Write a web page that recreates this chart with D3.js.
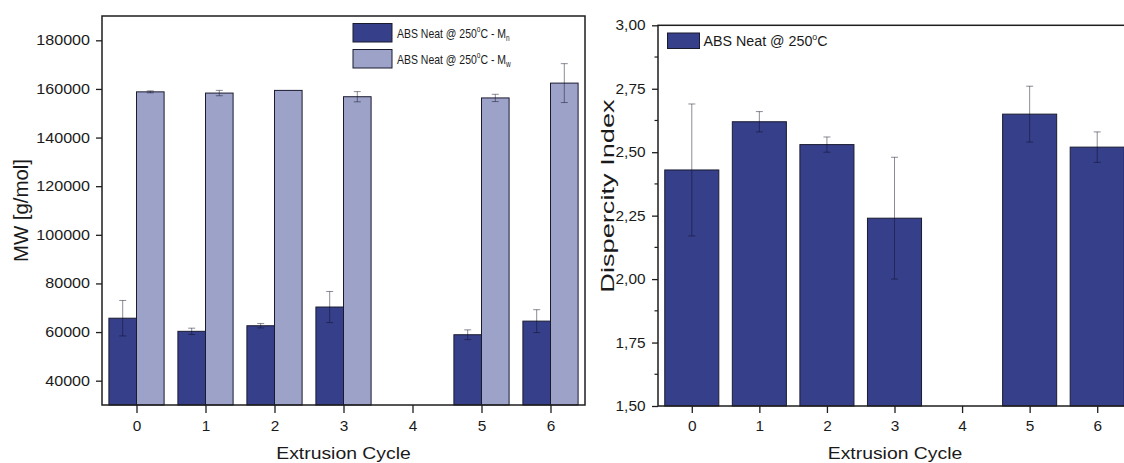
<!DOCTYPE html>
<html>
<head>
<meta charset="utf-8">
<script src="https://cdn.jsdelivr.net/npm/d3@7/dist/d3.min.js"></script>
<style>
  html, body { margin: 0; padding: 0; background: #fff; }
  svg { display: block; font-family: "Liberation Sans", Arial, Helvetica, sans-serif; }
</style>
</head>
<body>
<svg id="chart" width="1124" height="463"></svg>
<script>
// Extrusion cycles with measurements (cycle 4 was not measured)
const cycles = [0, 1, 2, 3, 5, 6];
const cycleTicks = [0, 1, 2, 3, 4, 5, 6];

// Number-average molecular weight Mn [g/mol] and its standard deviation
const mnMean = [65700, 60300, 62600, 70300, 58900, 64500];
const mnErr  = [7300, 1300, 900, 6400, 2000, 4700];

// Weight-average molecular weight Mw [g/mol] and its standard deviation
const mwMean = [158800, 158300, 159400, 156800, 156300, 162400];
const mwErr  = [400, 1100, 0, 2100, 1500, 8000];

// Dispersity index (Mw/Mn) and its standard deviation
const dispMean = [2.43, 2.62, 2.53, 2.24, 2.65, 2.52];
const dispErr  = [0.26, 0.04, 0.03, 0.24, 0.11, 0.06];

// Axis tick values
const mwTicks = [40000, 60000, 80000, 100000, 120000, 140000, 160000, 180000];
const dispTicks = [1.50, 1.75, 2.00, 2.25, 2.50, 2.75, 3.00];
const dispMinorTicks = [1.625, 1.875, 2.125, 2.375, 2.625, 2.875];

const C_MN = "#363f8a";
const C_MW = "#9da2c9";
const C_EDGE = "#1b1b30";
const C_AXIS = "#1e1e1e";
const C_TEXT = "#1a1a1a";
const C_ERR = "rgba(15,15,35,0.48)";

const svg = d3.select("#chart");
svg.append("rect").attr("width", 1124).attr("height", 463).attr("fill", "#fff");

// text placed in its own group so it can be rotated and stretched about its anchor
function label(parent, x, y, opts) {
  const g = parent.append("g")
    .attr("transform", `translate(${x},${y}) rotate(${opts.rotate || 0}) scale(${opts.sx || 1},1)`);
  const t = g.append("text")
    .attr("text-anchor", opts.anchor || "middle")
    .attr("font-size", opts.size)
    .attr("fill", C_TEXT);
  return t;
}

function styleAxis(g) {
  g.select(".domain").remove();
  g.selectAll(".tick line").attr("stroke", C_AXIS).attr("stroke-width", 1.3);
  g.selectAll(".tick text").attr("fill", C_TEXT);
}

function errorBars(g, data, xs, ys, cap) {
  const eb = g.append("g").attr("stroke", C_ERR).attr("stroke-width", 1).attr("fill", "none");
  data.forEach(d => {
    if (!d.e) return;
    const x = xs(d), yt = ys(d.m + d.e), yb = ys(d.m - d.e);
    eb.append("line").attr("x1", x).attr("x2", x).attr("y1", yt).attr("y2", yb);
    eb.append("line").attr("x1", x - cap).attr("x2", x + cap).attr("y1", yt).attr("y2", yt);
    eb.append("line").attr("x1", x - cap).attr("x2", x + cap).attr("y1", yb).attr("y2", yb);
  });
}

// ---------------- Left panel: molecular weight ----------------
{
  const P = { x0: 102, x1: 585, y0: 16, y1: 405 };
  const x = d3.scaleLinear().domain([-0.5, 6.5]).range([P.x0, P.x1]);
  const y = d3.scaleLinear().domain([30000, 190000]).range([P.y1, P.y0]);
  const g = svg.append("g");
  const bw = 0.4;

  const mn = cycles.map((c, i) => ({ c, m: mnMean[i], e: mnErr[i] }));
  const mw = cycles.map((c, i) => ({ c, m: mwMean[i], e: mwErr[i] }));

  g.append("g").selectAll("rect").data(mn).join("rect")
    .attr("x", d => x(d.c - bw)).attr("width", d => x(d.c) - x(d.c - bw))
    .attr("y", d => y(d.m)).attr("height", d => y(30000) - y(d.m))
    .attr("fill", C_MN).attr("stroke", C_EDGE).attr("stroke-width", 1);
  g.append("g").selectAll("rect").data(mw).join("rect")
    .attr("x", d => x(d.c)).attr("width", d => x(d.c + bw) - x(d.c))
    .attr("y", d => y(d.m)).attr("height", d => y(30000) - y(d.m))
    .attr("fill", C_MW).attr("stroke", C_EDGE).attr("stroke-width", 1);

  errorBars(g, mn, d => x(d.c - bw / 2), y, 3.5);
  errorBars(g, mw, d => x(d.c + bw / 2), y, 3.5);

  // frame
  g.append("rect").attr("x", P.x0).attr("y", P.y0)
    .attr("width", P.x1 - P.x0).attr("height", P.y1 - P.y0)
    .attr("fill", "none").attr("stroke", C_AXIS).attr("stroke-width", 1.5);

  const sxY = 1.15;
  const ya = g.append("g").attr("transform", `translate(${P.x0},0)`)
    .call(d3.axisLeft(y).tickValues(mwTicks).tickSize(6).tickFormat(d3.format("d")));
  styleAxis(ya);
  ya.selectAll(".tick text").attr("font-size", 14).attr("font-family", null)
    .attr("x", -12 / sxY).attr("transform", `scale(${sxY},1)`);

  const xa = g.append("g").attr("transform", `translate(0,${P.y1})`)
    .call(d3.axisBottom(x).tickValues(cycleTicks).tickSize(8).tickPadding(8).tickFormat(d3.format("d")));
  styleAxis(xa);
  xa.selectAll(".tick text").attr("font-size", 14).attr("font-family", null)
    .attr("transform", "scale(1.1,1)");

  label(g, (P.x0 + P.x1) / 2, 459, { size: 17, sx: 1.14 }).text("Extrusion Cycle");
  label(g, 27.5, (P.y0 + P.y1) / 2, { size: 20, rotate: -90, sx: 1.02 }).text("MW [g/mol]");

  // legend
  const lg = g.append("g");
  const items = [
    { fill: C_MN, y: 23.5, sub: "n" },
    { fill: C_MW, y: 49.5, sub: "w" }
  ];
  items.forEach(it => {
    lg.append("rect").attr("x", 353).attr("y", it.y).attr("width", 39).attr("height", 18.5)
      .attr("fill", it.fill).attr("stroke", C_EDGE).attr("stroke-width", 1);
    const t = label(lg, 397, it.y + 14.8, { size: 13.6, sx: 0.77, anchor: "start" });
    t.append("tspan").text("ABS Neat @ 250");
    t.append("tspan").attr("font-size", "0.62em").attr("dy", "-0.75em").text("o");
    t.append("tspan").attr("dy", "0.465em").text("C - M");
    t.append("tspan").attr("font-size", "0.62em").attr("dy", "0.35em").text(it.sub);
  });
}

// ---------------- Right panel: dispersity ----------------
{
  const P = { x0: 658, x1: 1131, y0: 25.3, y1: 406 };
  const x = d3.scaleLinear().domain([-0.5, 6.5]).range([P.x0, P.x1]);
  const y = d3.scaleLinear().domain([1.5, 3.0]).range([P.y1, P.y0]);
  const g = svg.append("g");
  const bw = 0.8;

  const dd = cycles.map((c, i) => ({ c, m: dispMean[i], e: dispErr[i] }));

  g.append("g").selectAll("rect").data(dd).join("rect")
    .attr("x", d => x(d.c - bw / 2)).attr("width", d => x(d.c + bw / 2) - x(d.c - bw / 2))
    .attr("y", d => y(d.m)).attr("height", d => y(1.5) - y(d.m))
    .attr("fill", C_MN).attr("stroke", C_EDGE).attr("stroke-width", 1);

  errorBars(g, dd, d => x(d.c), y, 3.5);

  g.append("rect").attr("x", P.x0).attr("y", P.y0)
    .attr("width", P.x1 - P.x0).attr("height", P.y1 - P.y0)
    .attr("fill", "none").attr("stroke", C_AXIS).attr("stroke-width", 1.5);

  const sxY = 1.1;
  const ya = g.append("g").attr("transform", `translate(${P.x0},0)`)
    .call(d3.axisLeft(y).tickValues(dispTicks).tickSize(6)
      .tickFormat(d => d.toFixed(2).replace(".", ",")));
  styleAxis(ya);
  ya.selectAll(".tick text").attr("font-size", 14).attr("font-family", null)
    .attr("x", -12.5 / sxY).attr("transform", `scale(${sxY},1)`);

  g.append("g").selectAll("line").data(dispMinorTicks).join("line")
    .attr("x1", P.x0 - 3.5).attr("x2", P.x0)
    .attr("y1", d => y(d)).attr("y2", d => y(d))
    .attr("stroke", C_AXIS).attr("stroke-width", 1.2);

  const xa = g.append("g").attr("transform", `translate(0,${P.y1})`)
    .call(d3.axisBottom(x).tickValues(cycleTicks).tickSize(7).tickPadding(8).tickFormat(d3.format("d")));
  styleAxis(xa);
  xa.selectAll(".tick text").attr("font-size", 14).attr("font-family", null)
    .attr("transform", "scale(1.1,1)");

  label(g, 895, 459, { size: 17, sx: 1.14 }).text("Extrusion Cycle");
  label(g, 614, 196, { size: 18.5, rotate: -90, sx: 1.47 }).text("Dispercity Index");

  // legend
  g.append("rect").attr("x", 667.5).attr("y", 33).attr("width", 32).attr("height", 15.5)
    .attr("fill", C_MN).attr("stroke", C_EDGE).attr("stroke-width", 1);
  const t = label(g, 703.5, 46, { size: 14, sx: 1.02, anchor: "start" });
  t.append("tspan").text("ABS Neat @ 250");
  t.append("tspan").attr("font-size", "0.62em").attr("dy", "-0.75em").text("o");
  t.append("tspan").attr("dy", "0.465em").text("C");
}
</script>
</body>
</html>
